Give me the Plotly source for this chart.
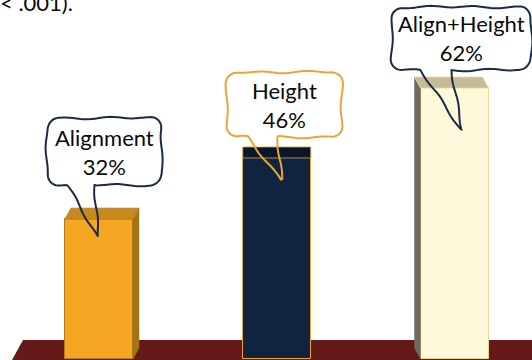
import numpy as np
import plotly.graph_objects as go

# ---------------- data ----------------
categories = ["Alignment", "Height", "Align+Height"]
values = [32, 46, 62]
note_text = "< .001)."

# ---------------- styles ----------------
W, H = 532, 360
XR = [-0.557, 2.436]
YR = [-0.229, 82.15]
bar_w = 0.3826
front_colors = ["#F5A623", "#10233F", "#FFF9DB"]
top_colors = ["#C8891D", "#0A172B", "#C4BB98"]
side_colors = ["#A37316", "#0A172B", "#6E6A5C"]
edge_colors = ["#B37A18", "#E4A43A", "#F0D58C"]
bubble_colors = ["#1B2B46", "#E9A536", "#1B2B46"]
# bubble boxes in pixels: left, right, top, bottom, tail x1, tail x2, tip dx, tip drop
bubble_boxes = [
    (47, 162, 118, 185, 67, 95, -1, 18),
    (227, 342, 72, 137, 247, 278, 5, 22),
    (392, 531, 7, 70, 420, 452, 7, 42),
]

idx = np.arange(len(categories))


def px_x(x):
    return (x - XR[0]) / (XR[1] - XR[0]) * W


def px_y(y):
    return H - (y - YR[0]) / (YR[1] - YR[0]) * H


ux = (XR[1] - XR[0]) / W  # data units per px (x)
uy = (YR[1] - YR[0]) / H  # data units per px (y)

fig = go.Figure()

# 3D side faces derived from values (perspective from the centre)
for i, v in zip(idx, values):
    dxp = (1 - i) * 6.0
    dx = dxp * ux
    dy = 11.0 * uy
    xl, xr = i - bar_w / 2, i + bar_w / 2
    if dxp != 0:
        xs = xr if dxp > 0 else xl
        fig.add_trace(go.Scatter(
            x=[xs, xs + dx, xs + dx, xs, xs],
            y=[v, v + dy, dy, 0, v],
            mode="lines", fill="toself", fillcolor=side_colors[i],
            line=dict(color=side_colors[i], width=0.5),
            hoverinfo="skip", showlegend=False))

fig.add_trace(go.Bar(
    x=idx, y=values, width=bar_w,
    marker=dict(color=front_colors, line=dict(color=edge_colors, width=1)),
    hoverinfo="skip", showlegend=False))

for i, v in zip(idx, values):
    dxp = (1 - i) * 6.0
    dx = dxp * ux
    dy = 11.0 * uy
    xl, xr = i - bar_w / 2, i + bar_w / 2
    fig.add_trace(go.Scatter(
        x=[xl, xr, xr + dx, xl + dx, xl],
        y=[v, v, v + dy, v + dy, v],
        mode="lines", fill="toself", fillcolor=top_colors[i],
        line=dict(color=edge_colors[i], width=0.8),
        hoverinfo="skip", showlegend=False))


# ---------------- speech bubbles ----------------
def bubble_path(left, right, top, bottom, x1, x2, tip, r=11):
    pts = [(x2, bottom), tip, (x1, bottom), (left + r, bottom)]

    def arc(cx, cy, a0, a1):
        out = []
        for a in np.linspace(a0, a1, 8)[1:]:
            out.append((cx + r * np.cos(a), cy + r * np.sin(a)))
        return out
    pts += arc(left + r, bottom - r, np.pi / 2, np.pi)
    pts.append((left, top + r))
    pts += arc(left + r, top + r, np.pi, 1.5 * np.pi)
    pts.append((right - r, top))
    pts += arc(right - r, top + r, 1.5 * np.pi, 2 * np.pi)
    pts.append((right, bottom - r))
    pts += arc(right - r, bottom - r, 0, np.pi / 2)
    pts.append((x2, bottom))
    pts = np.array(pts, dtype=float)
    seg = np.sqrt((np.diff(pts, axis=0) ** 2).sum(axis=1))
    s = np.concatenate([[0], np.cumsum(seg)])
    ss = np.arange(0, s[-1], 2.0)
    xs = np.interp(ss, s, pts[:, 0])
    ys = np.interp(ss, s, pts[:, 1])
    gx = np.gradient(xs)
    gy = np.gradient(ys)
    n = np.sqrt(gx ** 2 + gy ** 2) + 1e-9
    nx, ny = -gy / n, gx / n
    wob = 0.9 * np.sin(ss / 7.0) + 0.5 * np.sin(ss / 17.0 + 1.3)
    xs = xs + nx * wob
    ys = ys + ny * wob
    d = "M " + " L ".join(f"{x / W:.5f},{1 - y / H:.5f}" for x, y in zip(xs, ys)) + " Z"
    return d


shapes = [dict(type="path", xref="paper", yref="paper", layer="below",
               path=f"M {12 / W},0 L {23 / W},{1 - 340 / H} L 1,{1 - 340 / H} L 1,0 Z",
               fillcolor="#651A1A", line=dict(width=0))]

annotations = []
for i, (c, v) in enumerate(zip(categories, values)):
    left, right, top, bottom, x1, x2, tdx, tdrop = bubble_boxes[i]
    tip = (px_x(i) + tdx, px_y(v) + tdrop)
    shapes.append(dict(type="path", xref="paper", yref="paper",
                       path=bubble_path(left, right, top, bottom, x1, x2, tip),
                       line=dict(color=bubble_colors[i], width=2),
                       fillcolor="rgba(0,0,0,0)"))
    annotations.append(dict(
        x=(left + right) / 2 / W, y=1 - (top + bottom) / 2 / H,
        xref="paper", yref="paper", xanchor="center", yanchor="middle",
        text=f"{c}<br>{v}%", showarrow=False, align="center",
        font=dict(family="Lato", size=22, color="#0a0a0a")))

annotations.append(dict(
    x=-2 / W, y=1 - 3 / H, xref="paper", yref="paper",
    xanchor="left", yanchor="middle", text=note_text, showarrow=False,
    font=dict(family="Lato", size=22, color="#0a0a0a")))

fig.update_layout(
    width=W, height=H,
    margin=dict(l=0, r=0, t=0, b=0),
    paper_bgcolor="white", plot_bgcolor="white",
    xaxis=dict(range=XR, visible=False, fixedrange=True),
    yaxis=dict(range=YR, visible=False, fixedrange=True),
    shapes=shapes, annotations=annotations,
    bargap=0, showlegend=False,
)

fig.write_html("out.html")
